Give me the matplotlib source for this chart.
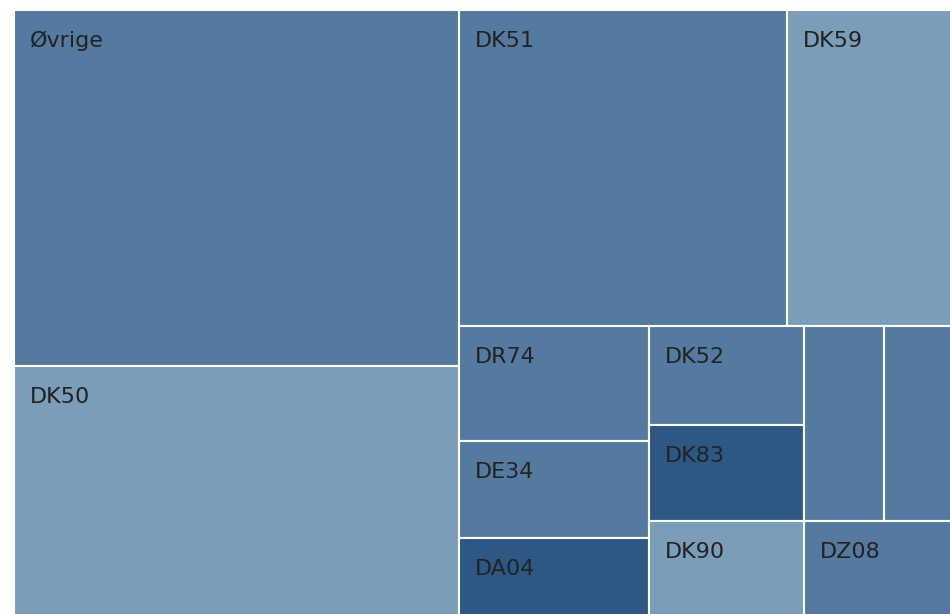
import matplotlib
matplotlib.use("Agg")
import matplotlib.pyplot as plt
from matplotlib.patches import Rectangle

# treemap data (two unnamed tiles carry no visible label)
labels = ["Øvrige", "DK50", "DK51", "DK59", "DR74", "DE34", "DA04",
          "DK52", "DK83", "DK90", "", "", "DZ08"]
values = [1584, 1175, 1036, 547, 219, 184, 175, 153, 149, 169, 156, 148, 170]
shade = ["mid", "light", "mid", "light", "mid", "mid", "dark",
         "mid", "dark", "light", "mid", "mid", "mid"]

colors = {"light": "#7a9db8", "mid": "#547b9f", "dark": "#2d5884"}
PHI = (1 + 5 ** 0.5) / 2


def squarify(vals, x0, y0, x1, y1, ratio=PHI):
    ##d3 style squarified layout, keeps the input order
    rects = []
    total = float(sum(vals))
    n = len(vals)
    i0 = 0
    while i0 < n:
        dx, dy = x1 - x0, y1 - y0
        s = vals[i0]
        vmin = vmax = s
        alpha = max(dy / dx, dx / dy) / (total * ratio)
        beta = s * s * alpha
        best = max(vmax / beta, beta / vmin)
        i1 = i0 + 1
        while i1 < n:
            v = vals[i1]
            s2 = s + v
            mn, mx = min(vmin, v), max(vmax, v)
            beta = s2 * s2 * alpha
            r = max(mx / beta, beta / mn)
            if r > best:
                break
            s, vmin, vmax, best = s2, mn, mx, r
            i1 += 1
        row = vals[i0:i1]
        if dx < dy:
            # row across the top
            h = dy * s / total
            x = x0
            for v in row:
                w = dx * v / s
                rects.append((x, y0, w, h))
                x += w
            y0 += h
        else:
            # column down the left side
            w = dx * s / total
            y = y0
            for v in row:
                h = dy * v / s
                rects.append((x0, y, w, h))
                y += h
            x0 += w
        total -= s
        i0 = i1
    return rects


fig = plt.figure(figsize=(9.5, 6.14), dpi=100)
ax = fig.add_axes([0, 0, 1, 1])
ax.set_xlim(0, 950)
ax.set_ylim(614, 0)
ax.axis("off")

# the tiled area runs past the right and bottom edge of the picture
boxes = squarify(values, 14, 10, 960, 630)

for (x, y, w, h), lab, sh in zip(boxes, labels, shade):
    ax.add_patch(Rectangle((x, y), w, h, facecolor=colors[sh],
                           edgecolor="white", linewidth=1.5))
    if lab:
        ax.text(x + 16, y + 21, lab, ha="left", va="top", fontsize=16,
                color="#222222", family="DejaVu Sans", clip_on=True)

fig.savefig("out.png", dpi=100)
